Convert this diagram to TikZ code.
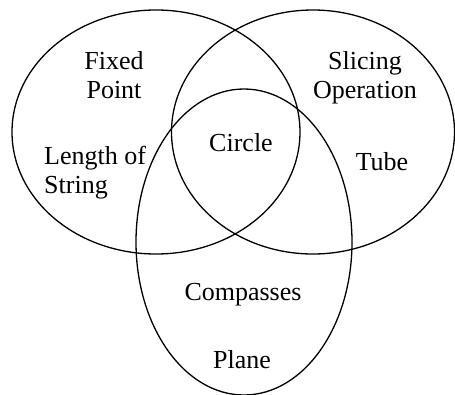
\documentclass[tikz,border=0pt]{standalone}
\usepackage{fontspec}
\setmainfont{Liberation Serif}
\usetikzlibrary{shapes,positioning}

\begin{document}
\begin{tikzpicture}[x=1pt, y=-1pt,
    setring/.style={ellipse, draw, line width=1.3pt, inner sep=0pt},
    setlabel/.style={font=\rmfamily\fontsize{26}{29}\selectfont, inner sep=0pt, anchor=base}
]
    \useasboundingbox (0,0) rectangle (455,394);

    % the three sets
    \node[setring, minimum width=288pt, minimum height=244pt] (fixed) at (156,132) {};
    \node[setring, minimum width=283pt, minimum height=244pt] (slice) at (313,132) {};
    \node[setring, minimum width=216pt, minimum height=306pt] (comp) at (244,242) {};

    % labels
    \node[setlabel, align=center] (fp) at (114,98) {Fixed\\Point};
    \node[setlabel, align=left, anchor=base west] (ls) at (44,193) {Length of\\String};
    \node[setlabel] (circ) at (241,151) {Circle};
    \node[setlabel, align=center] (so) at (365,98) {Slicing\\Operation};
    \node[setlabel] (tube) at (382,170) {Tube};
    \node[setlabel] (cps) at (243,300) {Compasses};
    \node[setlabel] (pl) at (242,368) {Plane};
\end{tikzpicture}
\end{document}
